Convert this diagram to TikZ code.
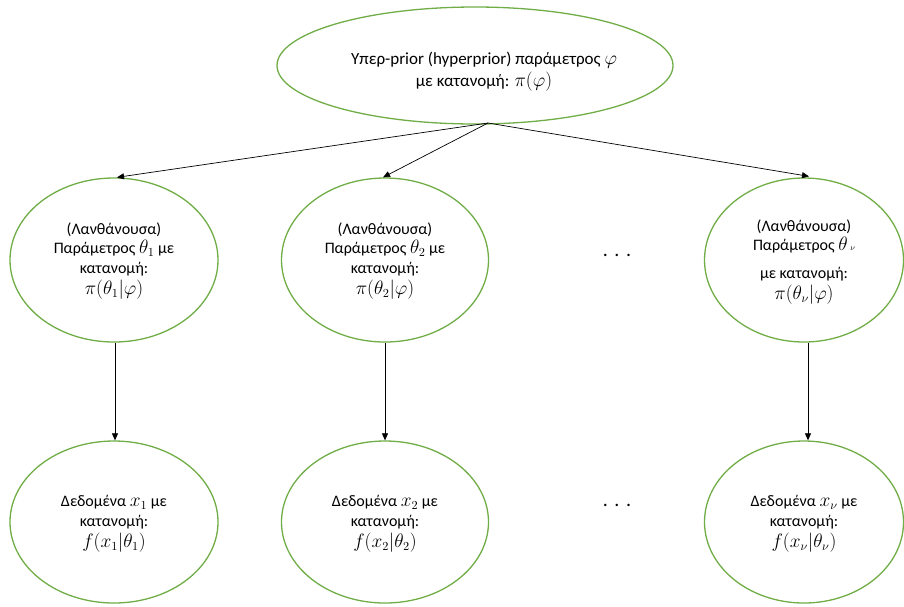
\documentclass[tikz,border=0pt]{standalone}
\usepackage{fontspec}
\setmainfont{Carlito}
\usetikzlibrary{shapes.geometric,arrows.meta}
\definecolor{ogreen}{RGB}{112,173,71}
\newcommand{\mth}[1]{\scalebox{1.12}{$#1$}}
\tikzset{
  ell/.style={draw=ogreen, line width=1.3pt, ellipse, inner sep=0pt},
  txt/.style={align=center, font=\fontsize{16}{19.5}\selectfont, inner sep=0pt},
  conn/.style={draw=black, line width=0.7pt, -{Triangle[length=7pt,width=6pt]}},
  dots/.style={font=\fontsize{20}{20}\selectfont, inner sep=0pt}
}
\begin{document}
\begin{tikzpicture}[x=1pt,y=-1pt]
\useasboundingbox (0,0) rectangle (904,606);
% top
\node[ell, minimum width=396pt, minimum height=117pt] (top) at (475,65.5) {};
\node[txt, font=\fontsize{17}{22}\selectfont] (toptxt) at (484,72) {Υπερ-prior (hyperprior) παράμετρος \mth{\varphi}\\με κατανομή: \mth{\pi(\varphi)}};
\coordinate (apex) at (488,123);
% middle row
\node[ell, minimum width=208pt, minimum height=164pt] (m1) at (114,260) {};
\node[ell, minimum width=207pt, minimum height=164pt] (m2) at (385,260) {};
\node[ell, minimum width=199pt, minimum height=164pt] (m3) at (804,260) {};
\node[txt] (m1t) at (114,261) {(Λανθάνουσα)\\Παράμετρος \mth{\theta_1} με\\κατανομή:\\[2pt]\mth{\pi(\theta_1|\varphi)}};
\node[txt] (m2t) at (385,261) {(Λανθάνουσα)\\Παράμετρος \mth{\theta_2} με\\κατανομή:\\[2pt]\mth{\pi(\theta_2|\varphi)}};
\node[txt] (m3t) at (804,262) {(Λανθάνουσα)\\Παράμετρος \mth{\theta}\,{\footnotesize$\nu$}\\[8pt]με κατανομή:\\[2pt]\mth{\pi(\theta_\nu|\varphi)}};
% bottom row
\node[ell, minimum width=208pt, minimum height=162pt] (b1) at (114,522) {};
\node[ell, minimum width=207pt, minimum height=162pt] (b2) at (385,522) {};
\node[ell, minimum width=199pt, minimum height=162pt] (b3) at (804,522) {};
\node[txt] (b1t) at (114,524) {Δεδομένα \mth{x_1} με\\κατανομή:\\[2pt]\mth{f(x_1|\theta_1)}};
\node[txt] (b2t) at (385,524) {Δεδομένα \mth{x_2} με\\κατανομή:\\[2pt]\mth{f(x_2|\theta_2)}};
\node[txt] (b3t) at (804,524) {Δεδομένα \mth{x_\nu} με\\κατανομή:\\[2pt]\mth{f(x_\nu|\theta_\nu)}};
% dots
\node[dots] (d1) at (617,255) {.\,\,.\,\,.};
\node[dots] (d2) at (617,505) {.\,\,.\,\,.};
% connectors
\draw[conn] (apex) -- ([xshift=3pt]m1.north);
\draw[conn] (apex) -- ([xshift=-2pt]m2.north);
\draw[conn] (apex) -- ([xshift=5pt,yshift=1pt]m3.north);
\draw[conn] ([xshift=1pt]m1.south) -- ([xshift=1pt]b1.north);
\draw[conn] (m2.south) -- (b2.north);
\draw[conn] ([xshift=4pt]m3.south) -- ([xshift=4pt]b3.north);
\end{tikzpicture}
\end{document}
